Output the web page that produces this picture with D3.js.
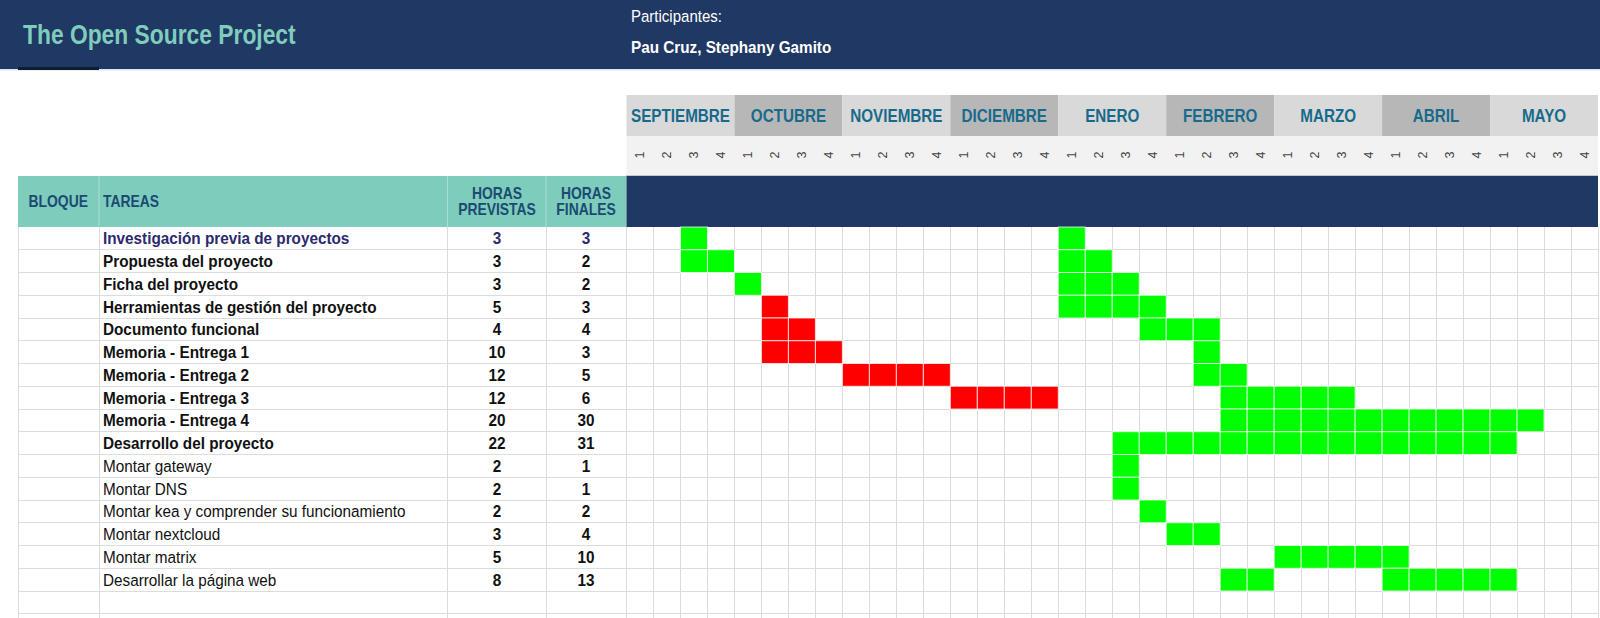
<!DOCTYPE html>
<html><head><meta charset="utf-8">
<script src="https://cdn.jsdelivr.net/npm/d3@7"></script>
<style>html,body{margin:0;padding:0;background:#fff;}svg{display:block;font-family:"Liberation Sans",Arial,sans-serif;}</style>
</head><body><svg id="c" width="1600" height="618"></svg>
<script>
// ---------- data ----------
const title = "The Open Source Project";
const participantsLabel = "Participantes:";
const participants = "Pau Cruz, Stephany Gamito";
const months = ["SEPTIEMBRE","OCTUBRE","NOVIEMBRE","DICIEMBRE","ENERO","FEBRERO","MARZO","ABRIL","MAYO"];
const weekLabels = ["1","2","3","4"];
const columnHeaders = ["BLOQUE","TAREAS","HORAS PREVISTAS","HORAS FINALES"];
const tasks = [
  "Investigación previa de proyectos","Propuesta del proyecto","Ficha del proyecto",
  "Herramientas de gestión del proyecto","Documento funcional","Memoria - Entrega 1",
  "Memoria - Entrega 2","Memoria - Entrega 3","Memoria - Entrega 4","Desarrollo del proyecto",
  "Montar gateway","Montar DNS","Montar kea y comprender su funcionamiento",
  "Montar nextcloud","Montar matrix","Desarrollar la página web"
];
const taskType = ["lead","main","main","main","main","main","main","main","main","main",
  "sub","sub","sub","sub","sub","sub"];
const horasPrevistas = [3,3,3,5,4,10,12,12,20,22,2,2,2,3,5,8];
const horasFinales   = [3,2,2,3,4,3,5,6,30,31,1,1,2,4,10,13];
// spans: [taskIndex, startWeekIndex, numberOfWeeks]
const redSpans = [[3,5,1],[4,5,2],[5,5,3],[6,8,4],[7,12,4]];
const greenSpans = [[0,2,1],[0,16,1],[1,2,2],[1,16,2],[2,4,1],[2,16,3],[3,16,4],[4,19,3],
  [5,21,1],[6,21,2],[7,22,5],[8,22,12],[9,18,15],[10,18,1],[11,18,1],[12,19,1],[13,20,2],
  [14,24,5],[15,22,2],[15,28,5]];
const extraEmptyRows = 2;

// ---------- layout ----------
const svg = d3.select("#c");
const NAVY = "#203864", TEAL = "#7ecdbc", HDR = "#1b4a73", MONTH = "#176a8b", GRID = "#dcdcdc";
const gridLeft = 626.5, gridRight = 1598, tableLeft = 18;
const colX = [18, 99, 447.5, 546, 626.5];
const weeks = d3.range(months.length * weekLabels.length);
const x = d3.scaleBand().domain(weeks).range([gridLeft, gridRight]);
const rowH = 22.75, rowTop = 227;
const rows = d3.range(tasks.length + extraEmptyRows);
const y = d3.scaleBand().domain(rows).range([rowTop, rowTop + rows.length * rowH]);
const monthX = d3.scaleBand().domain(months).range([gridLeft, gridRight]);

// text helper with horizontal compression (the sheet's text is narrow and tall)
function txt(g, tx, ty, s, sx, size, weight, fill, anchor){
  return g.append("text").attr("transform",`translate(${tx},${ty}) scale(${sx},1)`)
    .attr("font-size",size).attr("font-weight",weight||"normal").attr("fill",fill)
    .attr("text-anchor",anchor||"start").text(s);
}

// top banner
svg.append("rect").attr("x",0).attr("y",0).attr("width",1600).attr("height",69).attr("fill",NAVY);
svg.append("rect").attr("x",0).attr("y",69).attr("width",1600).attr("height",1.5).attr("fill","#d6e6f4");
svg.append("rect").attr("x",18).attr("y",67).attr("width",81).attr("height",3).attr("fill","#101c30");
txt(svg, 23, 43.5, title, 0.83, 27.5, "bold", "#7fcdbb");
txt(svg, 631, 21.5, participantsLabel, 0.91, 16.5, "normal", "#fff");
txt(svg, 631, 52.5, participants, 0.91, 16.8, "bold", "#fff");

// month header
svg.selectAll("rect.month").data(months).join("rect").attr("class","month")
  .attr("x",d=>monthX(d)).attr("y",95).attr("width",monthX.bandwidth()).attr("height",41)
  .attr("fill",(d,i)=> i%2 ? "#b7b7b7" : "#d9d9d9");
const mg = svg.append("g");
months.forEach(m=>txt(mg, monthX(m)+monthX.bandwidth()/2, 121.5, m, 0.87, 17.5, "bold", MONTH, "middle"));
svg.append("rect").attr("x",gridLeft).attr("y",136).attr("width",gridRight-gridLeft).attr("height",39).attr("fill","#f2f2f2");
svg.selectAll("text.week").data(weeks).join("text").attr("class","week")
  .attr("transform",d=>`translate(${x(d)+x.bandwidth()/2+4.5},155) rotate(-90)`)
  .attr("text-anchor","middle").attr("font-size",12.5).attr("fill","#444")
  .text(d=>weekLabels[d % weekLabels.length]);

// column header band
svg.append("rect").attr("x",tableLeft).attr("y",176).attr("width",gridLeft-tableLeft).attr("height",rowTop-176).attr("fill",TEAL);
svg.append("rect").attr("x",gridLeft).attr("y",175.5).attr("width",gridRight-gridLeft).attr("height",rowTop-175.5).attr("fill",NAVY);
svg.append("line").attr("x1",gridLeft).attr("x2",gridRight).attr("y1",175.5).attr("y2",175.5).attr("stroke","#c8c8c8");
[1,2,3].forEach(i=>svg.append("line").attr("x1",colX[i]).attr("x2",colX[i]).attr("y1",176).attr("y2",rowTop)
  .attr("stroke","#a9ddd1").attr("stroke-width",1));
const hdr = svg.append("g");
txt(hdr, 28.5, 207, columnHeaders[0], 0.88, 15.8, "bold", HDR);
txt(hdr, 103, 207, columnHeaders[1], 0.88, 15.8, "bold", HDR);
[[columnHeaders[2],497],[columnHeaders[3],586]].forEach(([t,cx])=>{
  t.split(" ").forEach((p,k)=>txt(hdr, cx, 199+k*16, p, 0.88, 15.8, "bold", HDR, "middle"));
});

// grid lines
const gl = svg.append("g").attr("stroke",GRID).attr("stroke-width",1).attr("shape-rendering","crispEdges");
rows.forEach(r=>gl.append("line").attr("x1",tableLeft).attr("x2",gridRight).attr("y1",y(r)+rowH).attr("y2",y(r)+rowH));
colX.forEach(cx=>gl.append("line").attr("x1",cx).attr("x2",cx).attr("y1",rowTop).attr("y2",618));
weeks.forEach(w=>gl.append("line").attr("x1",x(w)+x.bandwidth()).attr("x2",x(w)+x.bandwidth()).attr("y1",rowTop).attr("y2",618));

// cells
const cells = [];
redSpans.forEach(([t,s,n])=>d3.range(s,s+n).forEach(w=>cells.push({t,w,c:"#ff0000"})));
greenSpans.forEach(([t,s,n])=>d3.range(s,s+n).forEach(w=>cells.push({t,w,c:"#00ff00"})));
svg.append("g").selectAll("rect").data(cells).join("rect")
  .attr("x",d=>x(d.w)).attr("y",d=>y(d.t)).attr("width",x.bandwidth()).attr("height",rowH)
  .attr("fill",d=>d.c).attr("stroke","rgba(255,255,255,0.75)").attr("stroke-width",1);

// task rows text
const tg = svg.append("g");
const colorOf = i => taskType[i]==="lead" ? "#2c2a6e" : "#111";
tasks.forEach((t,i)=>{
  const by = y(i)+rowH/2+6;
  txt(tg, 103, by, t, 0.9, 17, taskType[i]==="sub" ? "normal" : "bold", colorOf(i));
  txt(tg, 497, by, String(horasPrevistas[i]), 0.9, 17, "bold", colorOf(i), "middle");
  txt(tg, 586, by, String(horasFinales[i]), 0.9, 17, "bold", colorOf(i), "middle");
});
</script></body></html>
